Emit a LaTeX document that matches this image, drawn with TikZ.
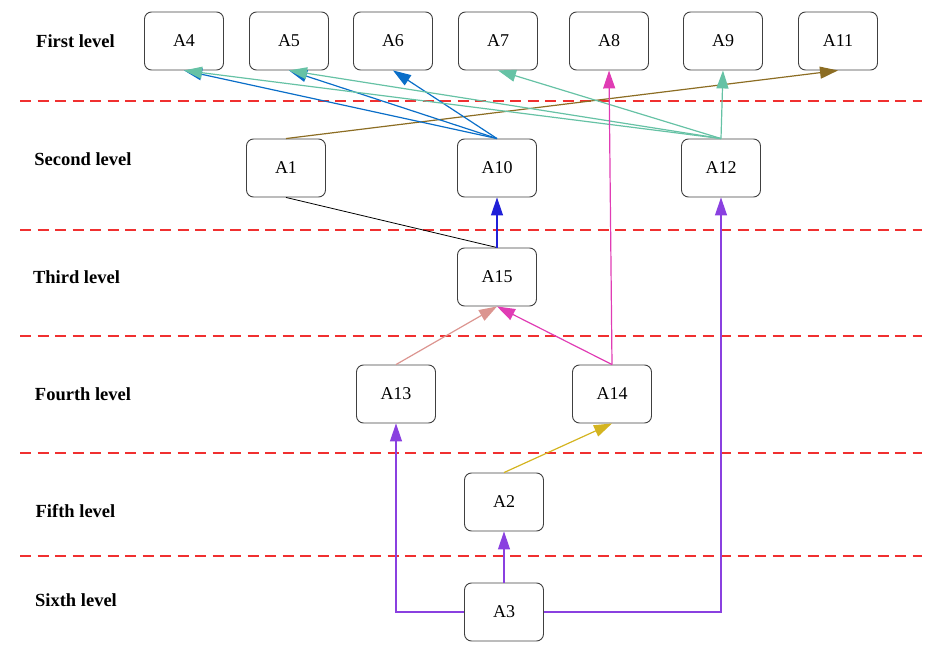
\documentclass[tikz,border=0pt]{standalone}
\usepackage{fontspec}
\setmainfont{Liberation Serif}
\usetikzlibrary{arrows.meta}
\definecolor{sepred}{HTML}{F03030}
\definecolor{cblue}{HTML}{0A6EC8}
\definecolor{cgreen}{HTML}{66C2A5}
\definecolor{cbrown}{HTML}{8C6D23}
\definecolor{cdeep}{HTML}{2020D8}
\definecolor{csalmon}{HTML}{DC9590}
\definecolor{cmagenta}{HTML}{E03CB4}
\definecolor{cyellow}{HTML}{D4B420}
\definecolor{cpurple}{HTML}{8A40E0}
\begin{document}
\begin{tikzpicture}[x=1pt,y=-1pt,
  box/.style={draw=black!75, line width=0.9pt, rounded corners=7pt,
    minimum width=79pt, minimum height=58pt, inner sep=0pt,
    font=\fontsize{18}{21}\selectfont},
  lvl/.style={font=\fontsize{18.5}{22}\selectfont\bfseries},
  sep/.style={draw=sepred, line width=1.1pt, dash pattern=on 11pt off 6.5pt},
  link/.style={line width=1.2pt, -{Triangle[length=18pt,width=12pt]}}]
\useasboundingbox (0,0) rectangle (946,650);

% level separators
\foreach \yy in {101,230,336,453,556}
  \draw[sep] (20,\yy) -- (922,\yy);

% level labels
\node[lvl] (L1) at (75.5,41) {First level};
\node[lvl] (L2) at (83,159) {Second level};
\node[lvl] (L3) at (76.5,277) {Third level};
\node[lvl] (L4) at (83,394) {Fourth level};
\node[lvl] (L5) at (75.5,511) {Fifth level};
\node[lvl] (L6) at (76,600) {Sixth level};

% first level
\node[box] (A4)  at (184,41) {A4};
\node[box] (A5)  at (289,41) {A5};
\node[box] (A6)  at (393,41) {A6};
\node[box] (A7)  at (498,41) {A7};
\node[box] (A8)  at (609,41) {A8};
\node[box] (A9)  at (723,41) {A9};
\node[box] (A11) at (838,41) {A11};
% second level
\node[box] (A1)  at (286,168) {A1};
\node[box] (A10) at (497,168) {A10};
\node[box] (A12) at (721,168) {A12};
% third level
\node[box] (A15) at (497,277) {A15};
% fourth level
\node[box] (A13) at (396,394) {A13};
\node[box] (A14) at (612,394) {A14};
% fifth level
\node[box] (A2)  at (504,502) {A2};
% sixth level
\node[box] (A3)  at (504,612) {A3};

% connectors
\draw[link, cbrown] (A1.north) -- (A11.south);
\draw[link, cblue] (A10.north) -- (A4.south);
\draw[link, cblue] (A10.north) -- (A5.south);
\draw[link, cblue] (A10.north) -- (A6.south);
\draw[link, cgreen] (A12.north) -- (A4.south);
\draw[link, cgreen] (A12.north) -- (A5.south);
\draw[link, cgreen] (A12.north) -- (A7.south);
\draw[link, cgreen] (A12.north) -- (A9.south);
\draw[line width=0.8pt, black] (A1.south) -- (A15.north);
\draw[link, cdeep] (A15.north) -- (A10.south);
\draw[link, csalmon] (A13.north) -- (A15.south);
\draw[link, cmagenta] (A14.north) -- (A15.south);
\draw[link, cmagenta] (A14.north) -- (A8.south);
\draw[link, cyellow] (A2.north) -- (A14.south);
\draw[link, cpurple] (A3.north) -- (A2.south);
\draw[link, cpurple] (A3.west) -| (A13.south);
\draw[link, cpurple] (A3.east) -| (A12.south);
\end{tikzpicture}
\end{document}
